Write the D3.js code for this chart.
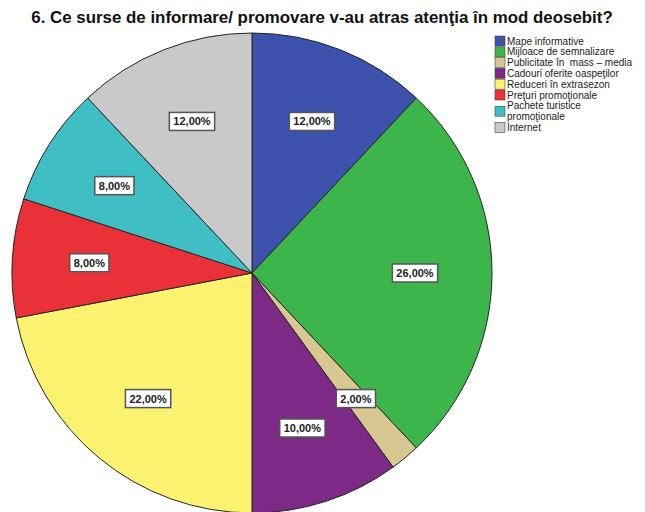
<!DOCTYPE html>
<html>
<head>
<meta charset="utf-8">
<script src="https://cdn.jsdelivr.net/npm/d3@7"></script>
<style>
  html, body { margin: 0; padding: 0; background: #fff; }
  svg { display: block; }
  text { white-space: pre; }
</style>
</head>
<body>
<svg id="chart" width="645" height="512"></svg>
<script>
// Survey answers: share of respondents per information / promotion source
const categories = [
  "Mape informative",
  "Mijloace de semnalizare",
  "Publicitate în  mass – media",
  "Cadouri oferite oaspeţilor",
  "Reduceri în extrasezon",
  "Preţuri promoţionale",
  "Pachete turistice promoţionale",
  "Internet"
];
const values = [12, 26, 2, 10, 22, 8, 8, 12];
const legendLines = [
  ["Mape informative"],
  ["Mijloace de semnalizare"],
  ["Publicitate în  mass – media"],
  ["Cadouri oferite oaspeţilor"],
  ["Reduceri în extrasezon"],
  ["Preţuri promoţionale"],
  ["Pachete turistice", "promoţionale"],
  ["Internet"]
];
const colors = ["#3d52ad", "#3cb54a", "#d6c890", "#7d2a86", "#fbf26f", "#ea3138", "#3fbec3", "#c9c9c9"];
const title = "6. Ce surse de informare/ promovare v-au atras atenţia în mod deosebit?";

const svg = d3.select("#chart");
const cx = 252, cy = 273, R = 240;

// Title
const t = svg.append("text")
  .attr("x", 322).attr("y", 23)
  .attr("text-anchor", "middle")
  .attr("font-family", "Liberation Sans, Arial, sans-serif")
  .attr("font-weight", "bold")
  .attr("font-size", 14)
  .attr("fill", "#111")
  .text(title);
const tw = t.node().getComputedTextLength();
if (tw > 0) t.attr("font-size", 14 * 582 / tw);

// Pie
const data = categories.map((c, i) => ({ cat: c, value: values[i], color: colors[i] }));
const pie = d3.pie().sort(null).value(d => d.value).startAngle(0).endAngle(2 * Math.PI);
const arcs = pie(data);
const arc = d3.arc().innerRadius(0).outerRadius(R);
const labelArc = d3.arc().innerRadius(163).outerRadius(163);

const g = svg.append("g").attr("transform", `translate(${cx},${cy})`);
g.selectAll("path.slice")
  .data(arcs)
  .join("path")
  .attr("class", "slice")
  .attr("d", arc)
  .attr("fill", d => d.data.color)
  .attr("stroke", "#262626")
  .attr("stroke-width", 1);

// Value labels in boxed tags
const fmt = v => d3.format(".2f")(v).replace(".", ",") + "%";
const lg = g.selectAll("g.lbl")
  .data(arcs)
  .join("g")
  .attr("class", "lbl")
  .attr("transform", d => `translate(${labelArc.centroid(d)})`);
lg.each(function(d) {
  const el = d3.select(this);
  const rect = el.append("rect");
  const txt = el.append("text")
    .attr("text-anchor", "middle")
    .attr("dy", "0.36em")
    .attr("font-family", "Liberation Sans, Arial, sans-serif")
    .attr("font-weight", "bold")
    .attr("font-size", 11)
    .attr("fill", "#222")
    .text(fmt(d.data.value));
  const w = txt.node().getComputedTextLength();
  rect.attr("x", -w / 2 - 4).attr("y", -9)
    .attr("width", w + 8).attr("height", 18)
    .attr("fill", "#fff")
    .attr("stroke", "#555")
    .attr("stroke-width", 1.5);
});

// Legend
const legend = svg.append("g").attr("transform", "translate(495,0)");
let y = 41;
legendLines.forEach((lines, i) => {
  const h = (lines.length - 1) * 10.8;
  legend.append("rect")
    .attr("x", 0).attr("y", y + h / 2 - 5)
    .attr("width", 10).attr("height", 10)
    .attr("fill", colors[i])
    .attr("stroke", "#444").attr("stroke-width", 0.6);
  lines.forEach((ln, j) => {
    legend.append("text")
      .attr("x", 12).attr("y", y + j * 10.8)
      .attr("dy", "0.35em")
      .attr("font-family", "Liberation Sans, Arial, sans-serif")
      .attr("font-size", 10)
      .attr("fill", "#222")
      .text(ln);
  });
  y += (lines.length) * 10.8;
});
</script>
</body>
</html>
